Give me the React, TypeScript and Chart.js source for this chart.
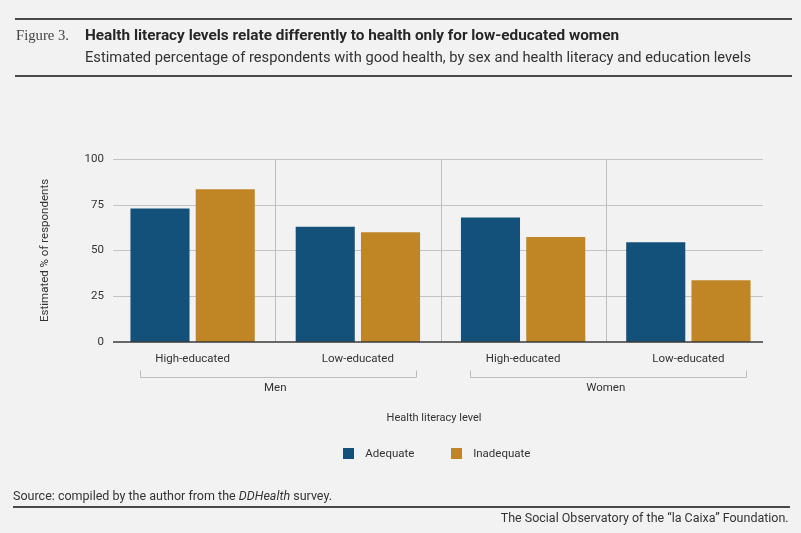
import React, { useEffect, useLayoutEffect, useRef } from 'react';
import { Chart, registerables } from 'chart.js';

Chart.register(...registerables);

// ---------------- data ----------------
const educationLevels = ['High-educated', 'Low-educated', 'High-educated', 'Low-educated'];
const sexGroups = ['Men', 'Women'];
const seriesLabels = ['Adequate', 'Inadequate'];
const adequateValues = [73, 63, 68, 54.5];
const inadequateValues = [83.5, 60, 57.3, 33.7];
const yTickValues = [0, 25, 50, 75, 100];

// ---------------- style ----------------
const BLUE = '#13507a';
const GOLD = '#c08626';
const TEXT = '#333333';
const FONT = 'Roboto, "Noto Sans", sans-serif';
const BG = '#f2f2f2';

Chart.defaults.font.family = FONT;
Chart.defaults.color = TEXT;

function swatch(color: string) {
  const c = document.createElement('canvas');
  c.width = 11;
  c.height = 11;
  const g = c.getContext('2d');
  if (g) {
    g.fillStyle = color;
    g.fillRect(0, 0, 11, 11);
  }
  return c;
}

const decorPlugin = {
  id: 'decor',
  beforeDatasetsDraw(chart: any) {
    const { ctx } = chart;
    const xs = chart.scales.x;
    const ys = chart.scales.y;
    const left = xs.left + 3;
    const right = xs.right - 8;
    ctx.save();
    ctx.lineWidth = 1;
    ctx.strokeStyle = '#c4c4c4';
    yTickValues.forEach((v) => {
      if (v === 0) return;
      const py = Math.round(ys.getPixelForValue(v)) + 0.5;
      ctx.beginPath();
      ctx.moveTo(left, py);
      ctx.lineTo(right, py);
      ctx.stroke();
    });
    const top = ys.getPixelForValue(yTickValues[yTickValues.length - 1]);
    const bottom = ys.getPixelForValue(0);
    ctx.strokeStyle = '#bdbdbd';
    for (let i = 0; i < educationLevels.length - 1; i++) {
      const px = Math.round((xs.getPixelForValue(i) + xs.getPixelForValue(i + 1)) / 2) + 0.5;
      ctx.beginPath();
      ctx.moveTo(px, top);
      ctx.lineTo(px, bottom);
      ctx.stroke();
    }
    ctx.restore();
  },
  afterDatasetsDraw(chart: any) {
    const { ctx } = chart;
    const xs = chart.scales.x;
    const ys = chart.scales.y;
    const py = ys.getPixelForValue(0);
    ctx.save();
    ctx.strokeStyle = '#3a3a3a';
    ctx.lineWidth = 1.5;
    ctx.beginPath();
    ctx.moveTo(xs.left + 3, py);
    ctx.lineTo(xs.right - 8, py);
    ctx.stroke();
    ctx.restore();
  },
  afterDraw(chart: any) {
    const { ctx } = chart;
    const xs = chart.scales.x;
    const gs = chart.scales.x2;
    const per = educationLevels.length / sexGroups.length;
    const yTop = Math.round(gs.top) + 0.5;
    const yLine = yTop + 7;
    ctx.save();
    ctx.strokeStyle = '#bdbdbd';
    ctx.lineWidth = 1;
    sexGroups.forEach((_, g) => {
      const x1 = Math.round(xs.getPixelForValue(g * per) - 53) + 0.5;
      const x2 = Math.round(xs.getPixelForValue(g * per + per - 1) + 58) + 0.5;
      ctx.beginPath();
      ctx.moveTo(x1, yTop);
      ctx.lineTo(x1, yLine);
      ctx.lineTo(x2, yLine);
      ctx.lineTo(x2, yTop);
      ctx.stroke();
    });
    ctx.restore();
  },
};

type FitProps = {
  x: number;
  baseline: number;
  size: number;
  width: number;
  align?: 'left' | 'right';
  family?: string;
  weight?: number;
  color?: string;
  children: React.ReactNode;
};

function FitText({ x, baseline, size, width, align = 'left', family = FONT, weight = 400, color = TEXT, children }: FitProps) {
  const ref = useRef<HTMLSpanElement>(null);
  useLayoutEffect(() => {
    const fit = () => {
      const el = ref.current;
      if (!el) return;
      el.style.transform = 'none';
      const w = el.getBoundingClientRect().width;
      if (w > 0) el.style.transform = `scaleX(${width / w})`;
    };
    fit();
    if ((document as any).fonts && (document as any).fonts.ready) {
      (document as any).fonts.ready.then(fit);
    }
  });
  const top = baseline - 0.84 * size;
  const pos: React.CSSProperties =
    align === 'left' ? { left: x, transformOrigin: 'left top' } : { right: 801 - x, transformOrigin: 'right top' };
  return (
    <span
      ref={ref}
      style={{
        position: 'absolute',
        top,
        fontSize: size,
        lineHeight: `${size}px`,
        fontFamily: family,
        fontWeight: weight,
        color,
        whiteSpace: 'nowrap',
        ...pos,
      }}
    >
      {children}
    </span>
  );
}

function Rule({ left, top, width }: { left: number; top: number; width: number }) {
  return <div style={{ position: 'absolute', left, top, width, height: 2, background: '#4a4a4a' }} />;
}

export default function App() {
  const canvasRef = useRef<HTMLCanvasElement>(null);

  useEffect(() => {
    if (!canvasRef.current) return;
    const swatches = [swatch(BLUE), swatch(GOLD)];
    const chart = new Chart(canvasRef.current, {
      type: 'bar',
      data: {
        labels: educationLevels,
        datasets: [
          { label: seriesLabels[0], data: adequateValues, backgroundColor: BLUE, xAxisID: 'x', yAxisID: 'y' },
          { label: seriesLabels[1], data: inadequateValues, backgroundColor: GOLD, xAxisID: 'x', yAxisID: 'y' },
        ],
      },
      options: {
        responsive: true,
        maintainAspectRatio: false,
        animation: false,
        events: [],
        datasets: { bar: { categoryPercentage: 0.79, barPercentage: 0.905 } },
        layout: { padding: { left: 67, right: 0, top: 159, bottom: 63.3 } },
        scales: {
          x: {
            type: 'category',
            position: 'bottom',
            weight: 0,
            offset: true,
            grid: { display: false, drawTicks: false },
            border: { display: false },
            ticks: { color: TEXT, font: { size: 11.5 }, padding: 10, maxRotation: 0, autoSkip: false },
            afterFit: (s: any) => {
              s.height = 28;
            },
          },
          x2: {
            type: 'category',
            labels: sexGroups,
            position: 'bottom',
            weight: 1,
            offset: true,
            grid: { display: false, drawTicks: false },
            border: { display: false },
            ticks: { color: TEXT, font: { size: 11.5 }, padding: 11, maxRotation: 0, autoSkip: false },
            afterFit: (s: any) => {
              s.height = 42;
            },
          },
          y: {
            type: 'linear',
            position: 'left',
            min: yTickValues[0],
            max: yTickValues[yTickValues.length - 1],
            afterBuildTicks: (s: any) => {
              s.ticks = yTickValues.map((v) => ({ value: v }));
            },
            grid: { display: false, drawTicks: false },
            border: { display: false },
            ticks: { color: TEXT, font: { size: 11.5 }, padding: 6 },
            title: {
              display: true,
              text: 'Estimated % of respondents',
              color: TEXT,
              font: { size: 11.5 },
              padding: { top: -28.9, bottom: 0 },
            },
            afterFit: (s: any) => {
              s.width = 43;
            },
          },
          yRightSpace: {
            type: 'linear',
            position: 'right',
            grid: { display: false, drawTicks: false },
            border: { display: false },
            ticks: { display: false },
            afterFit: (s: any) => {
              s.width = 30;
            },
          },
        },
        plugins: {
          tooltip: { enabled: false },
          legend: {
            position: 'bottom',
            fullSize: true,
            title: {
              display: true,
              text: 'Health literacy level',
              color: TEXT,
              font: { size: 11 },
              padding: { top: 0.5, bottom: -8.4 },
            },
            labels: {
              usePointStyle: true,
              pointStyleWidth: 22,
              boxHeight: 11,
              padding: 31,
              color: TEXT,
              font: { size: 11.5 },
              generateLabels: (c: any) => {
                const items = (Chart.defaults.plugins.legend.labels as any).generateLabels(c);
                items.forEach((it: any, i: number) => {
                  it.pointStyle = swatches[i % swatches.length];
                });
                return items;
              },
            },
          },
        },
      } as any,
      plugins: [decorPlugin],
    });
    return () => chart.destroy();
  }, []);

  return (
    <div style={{ position: 'absolute', left: 0, top: 0, width: 801, height: 533, background: BG, overflow: 'hidden' }}>
      <div style={{ position: 'absolute', left: 0, top: 0, width: 801, height: 533 }}>
        <canvas ref={canvasRef} />
      </div>
      <Rule left={15} top={18} width={777} />
      <FitText x={16} baseline={40.7} size={15} width={53} family={'"Liberation Serif", "DejaVu Serif", serif'} color="#444">
        Figure 3.
      </FitText>
      <FitText x={85} baseline={40.7} size={15} width={534} weight={700} color="#262626">
        Health literacy levels relate differently to health only for low-educated women
      </FitText>
      <FitText x={85} baseline={63} size={14.5} width={666} color="#333">
        Estimated percentage of respondents with good health, by sex and health literacy and education levels
      </FitText>
      <Rule left={15} top={75} width={777} />
      <FitText x={13} baseline={500} size={12} width={319} color="#333">
        Source: compiled by the author from the <i>DDHealth</i> survey.
      </FitText>
      <Rule left={13} top={506} width={777} />
      <FitText x={789} baseline={521.7} size={12} width={288} align="right" color="#333">
        The Social Observatory of the “la Caixa” Foundation.
      </FitText>
    </div>
  );
}
